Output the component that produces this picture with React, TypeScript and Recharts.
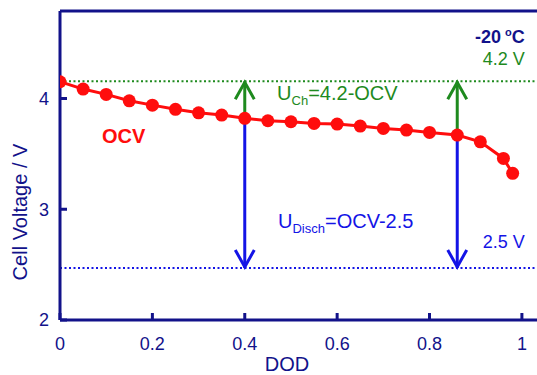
import { LineChart, Line, XAxis, YAxis, ReferenceLine, ReferenceDot } from "recharts";

const dod = [0, 0.05, 0.1, 0.15, 0.2, 0.25, 0.3, 0.35, 0.4, 0.45, 0.5, 0.55, 0.6, 0.65, 0.7, 0.75, 0.8, 0.86, 0.91, 0.96, 0.98];
const ocv = [4.151, 4.085, 4.037, 3.979, 3.94, 3.902, 3.871, 3.85, 3.821, 3.799, 3.79, 3.775, 3.769, 3.751, 3.73, 3.715, 3.694, 3.67, 3.609, 3.459, 3.324];
const xTicks = [0, 0.2, 0.4, 0.6, 0.8, 1];
const yTicks = [2, 3, 4];
const chargeLevel = 4.155;
const dischargeLevel = 2.47;
const arrowDod = [0.4, 0.86];

const data = dod.map((d, i) => ({ dod: d, ocv: ocv[i] }));

const NAVY = "#12128a";
const GREEN = "#1e8a1e";
const BLUE = "#1414e6";
const RED = "#ff0d0d";
const FONT = "'Liberation Sans', Arial, sans-serif";

const ocvAt = (d: number) => ocv[dod.indexOf(d)];

function Arrow(props: any) {
  const { x1, y1, x2, y2, stroke } = props;
  const dir = y2 < y1 ? 1 : -1;
  return (
    <g>
      <line x1={x1} y1={y1} x2={x2} y2={y2} stroke={stroke} strokeWidth={3} />
      <polyline
        points={`${x2 - 9.5},${y2 + dir * 18} ${x2},${y2 + dir * 1} ${x2 + 9.5},${y2 + dir * 18}`}
        fill="none"
        stroke={stroke}
        strokeWidth={3}
      />
    </g>
  );
}

const textAt = (node: (cx: number, cy: number) => any) => (p: any) => node(p.cx, p.cy);

export default function App() {
  return (
    <div style={{ position: "absolute", left: 0, top: 0, width: 537, height: 375, overflow: "hidden", background: "#fff" }}>
      <LineChart width={560} height={375} data={data} margin={{ top: 11, right: 15, bottom: 25, left: 0 }} style={{ fontFamily: FONT }}>
        <XAxis
          type="number"
          dataKey="dod"
          domain={[0, 1.05]}
          ticks={xTicks}
          allowDataOverflow
          height={30}
          axisLine={{ stroke: NAVY, strokeWidth: 3 }}
          tickLine={{ stroke: NAVY, strokeWidth: 3 }}
          tickSize={-7}
          tickMargin={24}
          tick={{ fill: NAVY, fontSize: 18, fontFamily: FONT }}
          label={() => (
            <text x={287} y={371} textAnchor="middle" fill={NAVY} fontSize={20} fontFamily={FONT}>
              DOD
            </text>
          )}
        />
        <YAxis
          type="number"
          domain={[2, 4.79]}
          ticks={yTicks}
          allowDataOverflow
          width={60}
          axisLine={{ stroke: NAVY, strokeWidth: 3 }}
          tickLine={{ stroke: NAVY, strokeWidth: 3 }}
          tickSize={-7}
          tickMargin={18}
          tick={{ fill: NAVY, fontSize: 18, fontFamily: FONT }}
          label={() => (
            <text x={27} y={212} textAnchor="middle" transform="rotate(-90 27 212)" fill={NAVY} fontSize={20} fontFamily={FONT}>
              Cell Voltage / V
            </text>
          )}
        />
        <ReferenceLine y={4.79} stroke={NAVY} strokeWidth={3} />
        <ReferenceLine y={chargeLevel} stroke={GREEN} strokeWidth={2} strokeDasharray="2 2.5" />
        <ReferenceLine y={dischargeLevel} stroke={BLUE} strokeWidth={2} strokeDasharray="2 2.5" />
        {arrowDod.map((d) => (
          <ReferenceLine
            key={`ch-${d}`}
            segment={[{ x: d, y: ocvAt(d) }, { x: d, y: chargeLevel }]}
            stroke={GREEN}
            shape={Arrow}
          />
        ))}
        {arrowDod.map((d) => (
          <ReferenceLine
            key={`dis-${d}`}
            segment={[{ x: d, y: ocvAt(d) }, { x: d, y: dischargeLevel }]}
            stroke={BLUE}
            shape={Arrow}
          />
        ))}
        <Line
          type="linear"
          dataKey="ocv"
          stroke={RED}
          strokeWidth={3}
          dot={{ r: 6.5, fill: RED, stroke: "none", strokeWidth: 0 }}
          activeDot={false}
          isAnimationActive={false}
        />
        <ReferenceDot
          x={0.091}
          y={3.6}
          r={0}
          shape={textAt((cx, cy) => (
            <text x={cx} y={cy} fill={RED} fontSize={20} fontWeight="bold" fontFamily={FONT}>
              OCV
            </text>
          ))}
        />
        <ReferenceDot
          x={1.006}
          y={4.5}
          r={0}
          shape={textAt((cx, cy) => (
            <text x={cx} y={cy} textAnchor="end" fill={NAVY} fontSize={18} fontWeight="bold" fontFamily={FONT}>
              -20
              <tspan dx={4} dy={-7} fontSize={11}>o</tspan>
              <tspan dy={7}>C</tspan>
            </text>
          ))}
        />
        <ReferenceDot
          x={1.006}
          y={4.3}
          r={0}
          shape={textAt((cx, cy) => (
            <text x={cx} y={cy} textAnchor="end" fill={GREEN} fontSize={18} fontFamily={FONT}>
              4.2 V
            </text>
          ))}
        />
        <ReferenceDot
          x={1.006}
          y={2.65}
          r={0}
          shape={textAt((cx, cy) => (
            <text x={cx} y={cy} textAnchor="end" fill={BLUE} fontSize={18} fontFamily={FONT}>
              2.5 V
            </text>
          ))}
        />
        <ReferenceDot
          x={0.47}
          y={3.986}
          r={0}
          shape={textAt((cx, cy) => (
            <text x={cx} y={cy} fill={GREEN} fontSize={20} fontFamily={FONT}>
              U
              <tspan dy={5} fontSize={13}>Ch</tspan>
              <tspan dy={-5}>=4.2-OCV</tspan>
            </text>
          ))}
        />
        <ReferenceDot
          x={0.472}
          y={2.83}
          r={0}
          shape={textAt((cx, cy) => (
            <text x={cx} y={cy} fill={BLUE} fontSize={20} fontFamily={FONT}>
              U
              <tspan dy={5} fontSize={13}>Disch</tspan>
              <tspan dy={-5}>=OCV-2.5</tspan>
            </text>
          ))}
        />
      </LineChart>
    </div>
  );
}
